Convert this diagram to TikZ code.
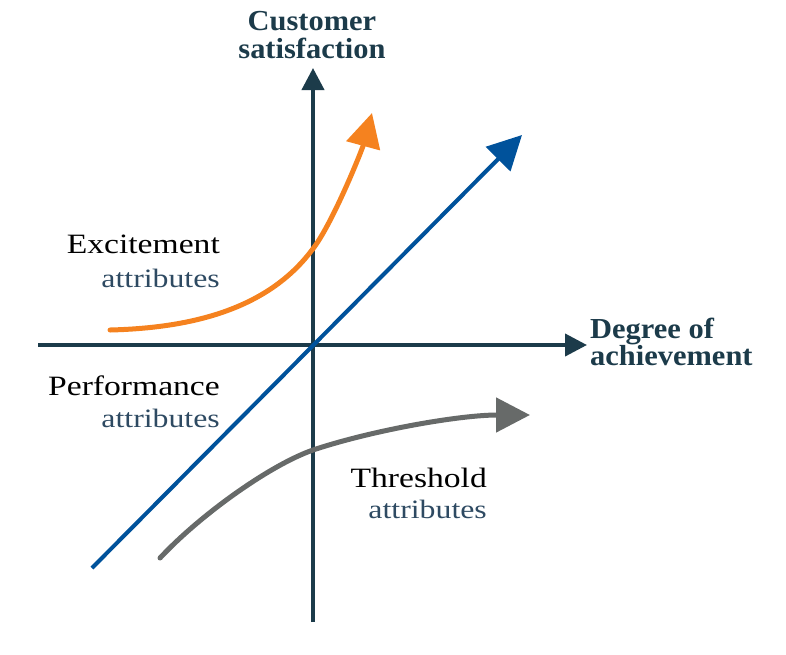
\documentclass[tikz,border=0pt]{standalone}
\usepackage{fontspec}
\setmainfont{Liberation Serif}
\newfontfamily\labfont[FakeStretch=1.2]{Liberation Serif}
\newfontfamily\axfont[FakeStretch=1.05]{Liberation Serif Bold}
\usetikzlibrary{arrows.meta}
\definecolor{axiscol}{HTML}{1C3B4A}
\definecolor{perfblue}{HTML}{00529B}
\definecolor{excorange}{HTML}{F5821F}
\definecolor{thrgray}{HTML}{676A69}
\definecolor{subcol}{HTML}{2E4A62}
\tikzset{
  axis/.style={draw=axiscol, line width=4pt, -{Triangle[length=22pt,width=22pt]}},
  curve/.style={line width=5pt, line cap=round, -{Triangle[length=34pt,width=34pt]}},
  axlabel/.style={inner sep=0pt, text=axiscol, font=\axfont\fontsize{29}{28}\selectfont},
  mainlab/.style={inner sep=0pt, text=black, font=\labfont\fontsize{28}{30}\selectfont},
  sublab/.style={inner sep=0pt, text=subcol, font=\labfont\fontsize{26.5}{28}\selectfont},
}
\begin{document}
\begin{tikzpicture}[x=1pt,y=-1pt]
\useasboundingbox (0,0) rectangle (786,654);
% axes
\coordinate (ybot) at (313,622);
\coordinate (ytop) at (313,68);
\coordinate (xleft) at (38,345);
\coordinate (xright) at (587,345);
\draw[axis] (ybot) -- (ytop);
\draw[axis] (xleft) -- (xright);
% performance
\coordinate (pstart) at (92,568);
\coordinate (pend) at (522,135);
\draw[line width=4pt, draw=perfblue, -{Triangle[length=34pt,width=34pt]}] (pstart) -- (pend);
% excitement
\coordinate (estart) at (110,330);
\coordinate (emid) at (312,250);
\coordinate (eend) at (372,113);
\draw[curve, draw=excorange] (estart) .. controls (190,328) and (267,310) .. (emid)
  .. controls (332,225) and (362,150) .. (eend);
% threshold
\coordinate (tstart) at (160,558);
\coordinate (tmid) at (313,450);
\coordinate (tend) at (530,415);
\draw[curve, draw=thrgray] (tstart) .. controls (200,515) and (270,465) .. (tmid)
  .. controls (373,430) and (460,415) .. (tend);
% labels
\node[axlabel, anchor=base] (cs1) at (312,30) {Customer};
\node[axlabel, anchor=base] (cs2) at (312,58) {satisfaction};
\node[axlabel, anchor=base west] (da1) at (590,338) {Degree of};
\node[axlabel, anchor=base west] (da2) at (590,365) {achievement};
\node[mainlab, anchor=base east] (ex1) at (220,253) {Excitement};
\node[sublab, anchor=base east] (ex2) at (220,287) {attributes};
\node[mainlab, anchor=base east] (pf1) at (220,395) {Performance};
\node[sublab, anchor=base east] (pf2) at (220,427) {attributes};
\node[mainlab, anchor=base east] (th1) at (487,487) {Threshold};
\node[sublab, anchor=base east] (th2) at (487,518) {attributes};
\end{tikzpicture}
\end{document}
